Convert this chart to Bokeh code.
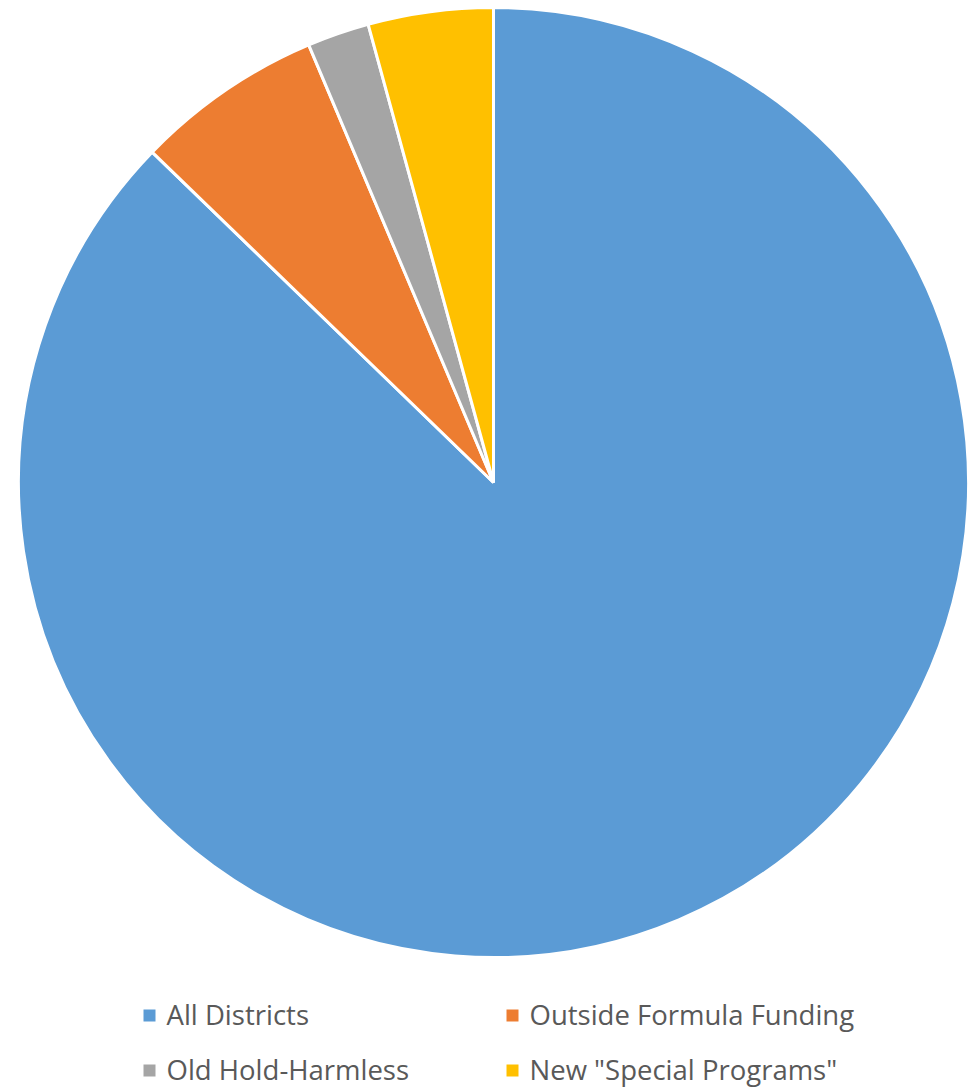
import math
from bokeh.plotting import figure
from bokeh.models import Range1d, ColumnDataSource
from bokeh.core.properties import value
from bokeh.embed import file_html
from bokeh.resources import INLINE

categories = ["All Districts", "Outside Formula Funding", "Old Hold-Harmless", 'New "Special Programs"']
shares = [87.24, 6.40, 2.11, 4.25]
colors = ["#5B9BD5", "#ED7D31", "#A5A5A5", "#FFC000"]

W, H = 971, 1089
cx, cy, r = 493, H - 482, 475

total = sum(shares)
starts, ends = [], []
a = math.pi / 2
for s in shares:
    starts.append(a)
    a = a - 2 * math.pi * s / total
    ends.append(a)

p = figure(width=W, height=H, x_range=Range1d(0, W), y_range=Range1d(0, H),
           output_backend="svg", toolbar_location=None, min_border=0)
p.axis.visible = False
p.grid.visible = False
p.outline_line_color = None
p.background_fill_color = "white"

src = ColumnDataSource(dict(start=starts, end=ends, color=colors, name=categories))
p.wedge(x=cx, y=cy, radius=r, start_angle="start", end_angle="end", direction="clock",
        fill_color="color", line_color="white", line_width=3, source=src)

# legend
col_x = [143, 506]
row_y = [H - 1014, H - 1069]
lx, ly, tx = [], [], []
for i in range(len(categories)):
    c = i % 2
    rw = i // 2
    lx.append(col_x[c] + 6)
    ly.append(row_y[rw])
    tx.append(col_x[c] + 23)
p.rect(x=lx, y=[v - 1 for v in ly], width=12, height=12, fill_color=colors, line_color=None)
p.text(x=tx, y=ly, text=categories, text_font=value("Open Sans"), text_font_size="27.5px",
       text_color="#595959", text_baseline="middle", text_align="left")

open("out.html", "w").write(file_html(p, INLINE))
